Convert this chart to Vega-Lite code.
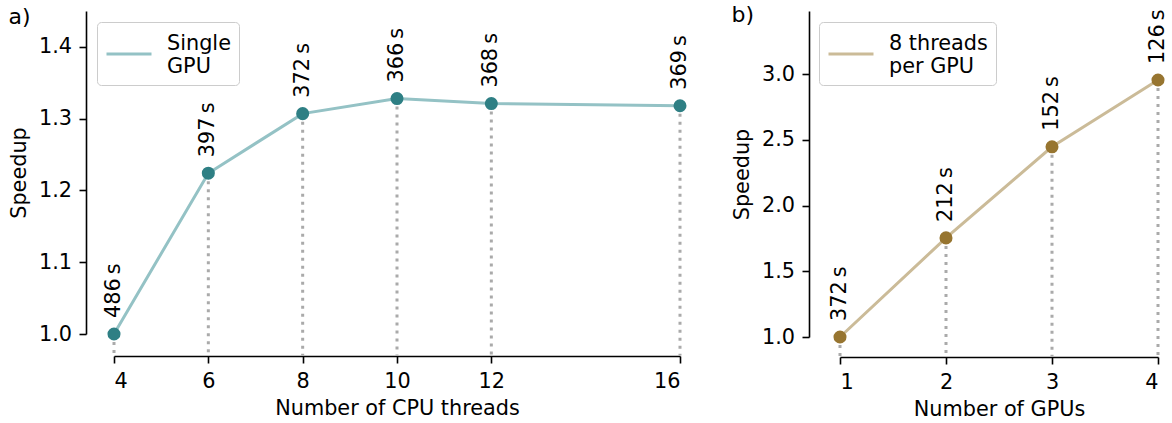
{
  "$schema": "https://vega.github.io/schema/vega-lite/v6.json",
  "background": "white",
  "padding": {"left": 8, "top": 4, "right": 5, "bottom": 5},
  "spacing": 160,
  "bounds": "flush",
  "resolve": {"scale": {"color": "independent"}, "legend": {"color": "independent"}},
  "config": {
    "font": "DejaVu Sans",
    "view": {"stroke": null},
    "axis": {
      "domainColor": "#000000", "domainWidth": 1.6, "tickColor": "#000000", "tickWidth": 1.6, "tickSize": 7,
      "labelColor": "#000000", "labelFontSize": 20.8, "labelFont": "DejaVu Sans",
      "titleFont": "DejaVu Sans", "titleFontSize": 20.8, "titleFontWeight": "normal", "titleColor": "#000000",
      "grid": false, "labelPadding": 8, "titlePadding": 8
    },
    "legend": {
      "symbolSize": 2025, "symbolStrokeWidth": 3, "labelFontSize": 20.8, "labelFont": "DejaVu Sans", "labelColor": "#000000",
      "labelOffset": 14, "labelBaseline": "bottom", "padding": 8, "strokeColor": "#cccccc", "fillColor": "rgba(255,255,255,0.8)", "cornerRadius": 4,
      "labelLimit": 400
    },
    "title": {"font": "DejaVu Sans", "fontSize": 22, "fontWeight": "normal", "anchor": "start", "frame": "bounds", "color": "#000000"}
  },
  "hconcat": [
    {
      "width": 566,
      "height": 323,
      "title": {"text": "a)", "offset": -18},
      "data": {"values": [
        {"threads": 4, "speedup": 1.0, "time": "486\u2009s", "series": "Single|GPU"},
        {"threads": 6, "speedup": 1.224, "time": "397\u2009s", "series": "Single|GPU"},
        {"threads": 8, "speedup": 1.307, "time": "372\u2009s", "series": "Single|GPU"},
        {"threads": 10, "speedup": 1.328, "time": "366\u2009s", "series": "Single|GPU"},
        {"threads": 12, "speedup": 1.321, "time": "368\u2009s", "series": "Single|GPU"},
        {"threads": 16, "speedup": 1.318, "time": "369\u2009s", "series": "Single|GPU"}
      ]},
      "encoding": {
        "x": {"field": "threads", "type": "quantitative",
              "scale": {"domain": [4, 16], "nice": false, "zero": false},
              "axis": {"values": [4, 6, 8, 10, 12, 16], "offset": 22, "title": "Number of CPU threads"}},
        "y": {"field": "speedup", "type": "quantitative",
              "scale": {"domain": [1.0, 1.45], "nice": false, "zero": false},
              "axis": {"values": [1.0, 1.1, 1.2, 1.3, 1.4], "format": ".1f", "offset": 28, "title": "Speedup", "labelPadding": 7.5, "titlePadding": 9}}
      },
      "layer": [
        {"mark": {"type": "rule", "color": "#aaaaaa", "strokeWidth": 3, "strokeDash": [3, 5]},
         "encoding": {"y2": {"datum": 0.97}}},
        {"mark": {"type": "line", "strokeWidth": 3},
         "encoding": {"color": {"field": "series", "type": "nominal", "scale": {"range": ["#94c2c5"]},
                                "legend": {"orient": "none", "legendX": -17, "legendY": 11, "title": null, "labelExpr": "split(datum.label, '|')"}}}},
        {"mark": {"type": "circle", "size": 170, "opacity": 1, "color": "#2e7f84"}},
        {"mark": {"type": "text", "angle": 270, "align": "left", "baseline": "middle", "dx": 16, "fontSize": 20.8, "color": "#000000"},
         "encoding": {"text": {"field": "time"}}}
      ]
    },
    {
      "width": 318,
      "height": 326,
      "title": {"text": "b)", "offset": -18},
      "data": {"values": [
        {"gpus": 1, "speedup": 1.0, "time": "372\u2009s", "series": "8 threads|per GPU"},
        {"gpus": 2, "speedup": 1.754, "time": "212\u2009s", "series": "8 threads|per GPU"},
        {"gpus": 3, "speedup": 2.447, "time": "152\u2009s", "series": "8 threads|per GPU"},
        {"gpus": 4, "speedup": 2.955, "time": "126\u2009s", "series": "8 threads|per GPU"}
      ]},
      "encoding": {
        "x": {"field": "gpus", "type": "quantitative",
              "scale": {"domain": [1, 4], "nice": false, "zero": false},
              "axis": {"values": [1, 2, 3, 4], "offset": 20, "title": "Number of GPUs"}},
        "y": {"field": "speedup", "type": "quantitative",
              "scale": {"domain": [1.0, 3.48], "nice": false, "zero": false},
              "axis": {"values": [1.0, 1.5, 2.0, 2.5, 3.0], "format": ".1f", "offset": 31, "title": "Speedup", "labelPadding": 7.5, "titlePadding": 9}}
      },
      "layer": [
        {"mark": {"type": "rule", "color": "#aaaaaa", "strokeWidth": 3, "strokeDash": [3, 5]},
         "encoding": {"y2": {"datum": 0.851}}},
        {"mark": {"type": "line", "strokeWidth": 3},
         "encoding": {"color": {"field": "series", "type": "nominal", "scale": {"range": ["#cbbb98"]},
                                "legend": {"orient": "none", "legendX": -21, "legendY": 11, "title": null, "labelExpr": "split(datum.label, '|')"}}}},
        {"mark": {"type": "circle", "size": 170, "opacity": 1, "color": "#977530"}},
        {"mark": {"type": "text", "angle": 270, "align": "left", "baseline": "middle", "dx": 16, "fontSize": 20.8, "color": "#000000"},
         "encoding": {"text": {"field": "time"}}}
      ]
    }
  ]
}
